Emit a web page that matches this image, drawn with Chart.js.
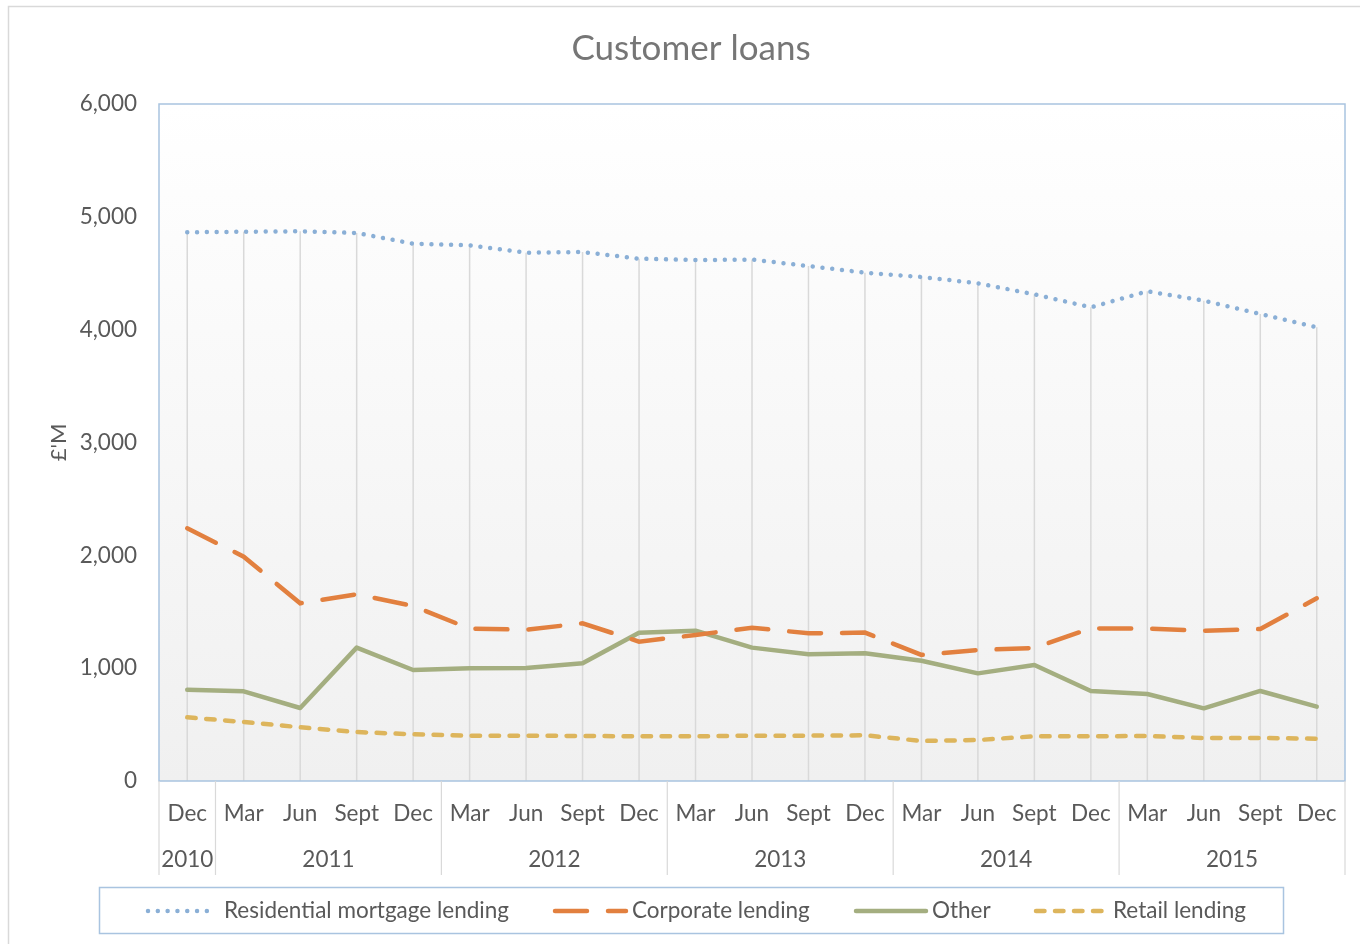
<!DOCTYPE html>
<html>
<head>
<meta charset="utf-8">
<title>Customer loans</title>
<script src="https://cdn.jsdelivr.net/npm/chart.js@4.4.1/dist/chart.umd.min.js"></script>
<style>
  html, body { margin: 0; padding: 0; background: #fff; }
  #wrap { width: 1360px; height: 944px; position: relative; }
</style>
</head>
<body>
<div id="wrap"><canvas id="loansChart"></canvas></div>
<script>
// quarters, Dec 2010 .. Dec 2015
const months = ['Dec', 'Mar', 'Jun', 'Sept', 'Dec', 'Mar', 'Jun', 'Sept', 'Dec', 'Mar', 'Jun',
    'Sept', 'Dec', 'Mar', 'Jun', 'Sept', 'Dec', 'Mar', 'Jun', 'Sept', 'Dec'];
const yearLabels = ['2010', '2011', '2012', '2013', '2014', '2015'];
const quartersPerYear = [1, 4, 4, 4, 4, 4];

const residential = [4863, 4868, 4872, 4857, 4762, 4748, 4682, 4688, 4629, 4617, 4621,
    4564, 4505, 4467, 4411, 4313, 4198, 4340, 4257, 4139, 4021];
const corporate = [2240, 1988, 1575, 1655, 1551, 1350, 1341, 1397, 1235, 1294, 1359,
    1309, 1315, 1117, 1161, 1179, 1353, 1350, 1332, 1347, 1619];
const other = [809, 795, 647, 1182, 984, 999, 1001, 1043, 1314, 1332, 1182,
    1123, 1132, 1066, 954, 1028, 798, 771, 644, 798, 659];
const retail = [564, 523, 476, 434, 414, 402, 402, 399, 396, 396, 402,
    402, 405, 355, 363, 396, 396, 399, 381, 381, 375];

const yTicks = [0, 1000, 2000, 3000, 4000, 5000, 6000];

const FONT = "Lato, Carlito, 'Liberation Sans', sans-serif";
const TEXT = '#595959';
Chart.defaults.font.family = FONT;

// plot background, outer frame and drop lines (behind the series)
const backdrop = {
    id: 'backdrop',
    beforeDatasetsDraw(chart) {
        const { ctx, chartArea: a, scales: { x, y } } = chart;
        ctx.save();
        const g = ctx.createLinearGradient(0, a.top, 0, a.bottom);
        g.addColorStop(0, '#ffffff');
        g.addColorStop(1, '#f0f0f0');
        ctx.fillStyle = g;
        ctx.fillRect(a.left, a.top, a.right - a.left, a.bottom - a.top);

        // drop lines from the highest point to the axis
        ctx.strokeStyle = '#d9d9d9';
        ctx.lineWidth = 1.5;
        months.forEach((m, i) => {
            const top = Math.max(...chart.data.datasets.map(d => d.data[i]));
            const px = x.getPixelForValue(i);
            ctx.beginPath();
            ctx.moveTo(px, y.getPixelForValue(top));
            ctx.lineTo(px, a.bottom);
            ctx.stroke();
        });
        ctx.restore();
    },
    afterDraw(chart) {
        const { ctx, chartArea: a, scales: { x } } = chart;
        ctx.save();
        // outer chart frame
        ctx.strokeStyle = '#d9d9d9';
        ctx.lineWidth = 1.5;
        ctx.strokeRect(8.5, 6.5, 1400, 1000);

        // title
        ctx.fillStyle = '#767676';
        ctx.font = '35px ' + FONT;
        ctx.textAlign = 'center';
        ctx.textBaseline = 'middle';
        ctx.fillText('Customer loans', 691, 49);

        // plot border
        ctx.strokeStyle = '#a9c4e0';
        ctx.lineWidth = 1.5;
        ctx.strokeRect(a.left, a.top, a.right - a.left, a.bottom - a.top);

        // year row + separators
        const half = (x.getPixelForValue(1) - x.getPixelForValue(0)) / 2;
        ctx.strokeStyle = '#d9d9d9';
        ctx.lineWidth = 1.2;
        ctx.fillStyle = TEXT;
        ctx.font = '22.5px ' + FONT;
        let idx = 0;
        const sep = px => {
            ctx.beginPath();
            ctx.moveTo(px, a.bottom);
            ctx.lineTo(px, a.bottom + 94);
            ctx.stroke();
        };
        sep(x.getPixelForValue(0) - half);
        yearLabels.forEach((yr, k) => {
            const x0 = x.getPixelForValue(idx) - half;
            idx += quartersPerYear[k];
            const x1 = x.getPixelForValue(idx - 1) + half;
            sep(x1);
            ctx.fillText(yr, (x0 + x1) / 2, a.bottom + 79);
        });

        // legend
        ctx.strokeStyle = '#a9c4e0';
        ctx.lineWidth = 1.5;
        ctx.strokeRect(99.5, 887.5, 1184, 46);
        const slots = [[148, 210, 224], [555, 626, 632], [856, 926, 932], [1036, 1106, 1113]];
        ctx.textAlign = 'left';
        chart.data.datasets.forEach((d, i) => {
            const [s0, s1, tx] = slots[i];
            ctx.save();
            ctx.strokeStyle = d.borderColor;
            ctx.lineWidth = d.borderWidth;
            ctx.lineCap = 'round';
            ctx.setLineDash(d.borderDash || []);
            ctx.beginPath();
            ctx.moveTo(s0, 911);
            ctx.lineTo(s1, 911);
            ctx.stroke();
            ctx.restore();
            ctx.fillText(d.label, tx, 911);
        });
        ctx.restore();
    }
};

new Chart(document.getElementById('loansChart'), {
    type: 'line',
    data: {
        labels: months,
        datasets: [
            {
                label: 'Residential mortgage lending',
                data: residential,
                borderColor: '#8aafd6',
                borderWidth: 4.5,
                borderDash: [0.01, 9.8],
                borderCapStyle: 'round',
                pointRadius: 0,
                tension: 0
            },
            {
                label: 'Corporate lending',
                data: corporate,
                borderColor: '#e2803f',
                borderWidth: 4.5,
                borderDash: [32, 21],
                borderCapStyle: 'round',
                pointRadius: 0,
                tension: 0
            },
            {
                label: 'Other',
                data: other,
                borderColor: '#a4ae80',
                borderWidth: 4.5,
                borderCapStyle: 'round',
                borderJoinStyle: 'round',
                pointRadius: 0,
                tension: 0
            },
            {
                label: 'Retail lending',
                data: retail,
                borderColor: '#ddb55c',
                borderWidth: 4.5,
                borderDash: [8.5, 10.5],
                borderCapStyle: 'round',
                pointRadius: 0,
                tension: 0
            }
        ]
    },
    options: {
        responsive: true,
        maintainAspectRatio: false,
        animation: false,
        layout: { padding: { left: 0, right: 15, top: 104, bottom: 0 } },
        plugins: {
            legend: { display: false },
            tooltip: { enabled: false },
            title: { display: false }
        },
        scales: {
            x: {
                offset: true,
                grid: { display: false, drawTicks: false },
                border: { display: false },
                ticks: {
                    color: TEXT,
                    font: { size: 22.5 },
                    padding: 19,
                    maxRotation: 0,
                    autoSkip: false
                },
                afterFit: s => { s.height = 163; }
            },
            y: {
                min: 0,
                max: 6000,
                afterBuildTicks: s => { s.ticks = yTicks.map(v => ({ value: v })); },
                grid: { display: false, drawTicks: false },
                border: { display: false },
                ticks: {
                    color: TEXT,
                    font: { size: 22.5 },
                    padding: 22,
                    callback: v => v.toLocaleString('en-GB')
                },
                title: {
                    display: true,
                    text: "£'M",
                    color: TEXT,
                    font: { size: 22 },
                    padding: { top: 46, bottom: 0 }
                },
                afterFit: s => { s.width = 159; }
            }
        }
    },
    plugins: [backdrop]
});
</script>
</body>
</html>
